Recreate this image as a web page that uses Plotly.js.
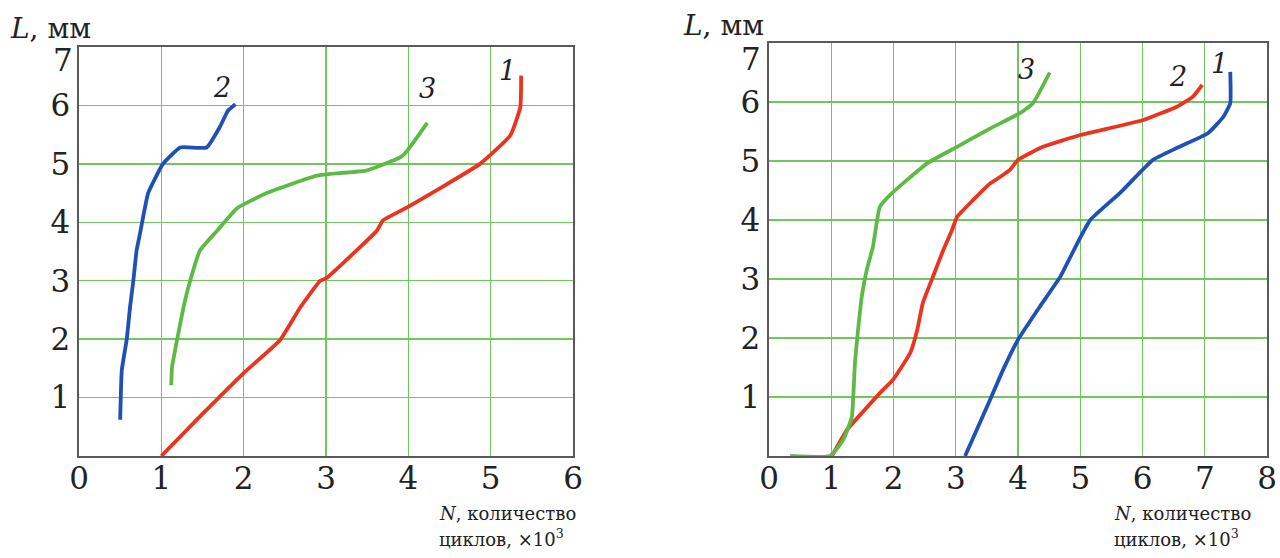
<!DOCTYPE html>
<html><head><meta charset="utf-8">
<script src="https://cdn.plot.ly/plotly-3.0.1.min.js"></script>
<style>body{margin:0;background:#fff}#c{width:1280px;height:558px}</style>
</head><body><div id="c"></div>
<script>
// Left chart
const L1x = [1.0, 1.5, 2.0, 2.44, 2.69, 2.93, 3.0, 3.41, 3.62, 3.69, 3.99, 4.87, 5.24, 5.36, 5.37];
const L1y = [0.0, 0.72, 1.42, 1.98, 2.55, 3.0, 3.04, 3.57, 3.86, 4.03, 4.26, 5.0, 5.49, 5.97, 6.51];
const L2x = [0.5, 0.52, 0.58, 0.62, 0.66, 0.70, 0.74, 0.84, 1.02, 1.23, 1.55, 1.71, 1.81, 1.90];
const L2y = [0.62, 1.47, 2.0, 2.55, 3.0, 3.52, 3.8, 4.5, 5.0, 5.28, 5.28, 5.63, 5.91, 6.02];
const L3x = [1.12, 1.13, 1.19, 1.27, 1.35, 1.47, 1.68, 1.92, 2.28, 2.89, 3.5, 3.9, 3.99, 4.23];
const L3y = [1.21, 1.52, 1.98, 2.55, 3.0, 3.52, 3.86, 4.24, 4.5, 4.8, 4.89, 5.11, 5.23, 5.7];
// Right chart
const R1x = [3.15, 3.55, 3.76, 4.0, 4.35, 4.68, 4.95, 5.16, 5.64, 6.17, 6.55, 7.05, 7.3, 7.41, 7.41];
const R1y = [0.0, 0.95, 1.46, 1.97, 2.53, 3.04, 3.6, 4.0, 4.46, 5.02, 5.22, 5.47, 5.75, 5.98, 6.51];
const R2x = [1.01, 1.25, 1.51, 1.83, 1.99, 2.27, 2.38, 2.47, 2.63, 2.8, 2.94, 3.02, 3.28, 3.55, 3.6, 3.87, 4.0, 4.4, 5.0, 6.0, 6.55, 6.81, 6.96];
const R2y = [0.0, 0.44, 0.75, 1.12, 1.29, 1.75, 2.13, 2.59, 3.03, 3.49, 3.83, 4.05, 4.34, 4.62, 4.65, 4.85, 5.02, 5.24, 5.44, 5.69, 5.92, 6.09, 6.29];
const R3x = [0.34, 0.98, 1.19, 1.33, 1.38, 1.43, 1.49, 1.57, 1.67, 1.78, 1.97, 2.54, 3.02, 3.55, 4.03, 4.24, 4.51];
const R3y = [0.0, 0.0, 0.27, 0.66, 1.57, 2.13, 2.7, 3.15, 3.55, 4.22, 4.45, 4.96, 5.24, 5.55, 5.81, 5.98, 6.5];

const xTicksL = [0,1,2,3,4,5,6];
const xTicksR = [0,1,2,3,4,5,6,7,8];
const yTicks = [1,2,3,4,5,6];   // "7" is drawn below as a label shifted under the axis title
const yTop = 7;

const BLUE = '#1f4fb8', GREEN = '#5cba45', RED = '#ea3420';
const GRID = '#72c661', FRAME = '#5a5a5a', INK = '#222';
const FONT = 'DejaVu Serif';

function tr(x, y, c, xa, ya) {
  return {x, y, type:'scatter', mode:'lines', xaxis:xa, yaxis:ya,
    line:{color:c, width:3.8, shape:'spline', smoothing:0.4}, hoverinfo:'skip'};
}
const data = [
  tr(L1x, L1y, RED, 'x', 'y'),
  tr(L2x, L2y, BLUE, 'x', 'y'),
  tr(L3x, L3y, GREEN, 'x', 'y'),
  tr(R1x, R1y, BLUE, 'x2', 'y2'),
  tr(R2x, R2y, RED, 'x2', 'y2'),
  tr(R3x, R3y, GREEN, 'x2', 'y2')
];

const H = 558, W = 1280;
function ax(domain, range, ticks, anchor, isY) {
  return {domain, range, anchor, tickvals:ticks, ticktext:ticks.map(String),
    showgrid:true, gridcolor:GRID, gridwidth:1.3, zeroline:false,
    showline:true, linecolor:FRAME, linewidth:1.6, mirror:true,
    ticks:'', ticklabelstandoff: isY ? 1 : -6, fixedrange:true,
    tickfont:{family:FONT, size:31, color:INK}};
}
function lab(xr, yr, x, y, t, sz, extra) {
  return Object.assign({xref:xr, yref:yr, x, y, showarrow:false, text:t,
    font:{family:FONT, size:sz, color:INK}}, extra || {});
}
const layout = {
  width:W, height:H, margin:{l:0, r:0, t:0, b:0},
  font:{family:FONT, color:INK},
  paper_bgcolor:'#fff', plot_bgcolor:'#fff', showlegend:false,
  xaxis: ax([79/W, 573/W], [0,6], xTicksL, 'y', false),
  yaxis: ax([(H-456)/H, (H-47)/H], [0,7], yTicks, 'x', true),
  xaxis2: ax([769/W, 1267/W], [0,8], xTicksR, 'y2', false),
  yaxis2: ax([(H-456)/H, (H-43)/H], [0,7], yTicks, 'x2', true),
  annotations: [
    lab('paper','paper', 8/W, (H-28)/H, '<i>L</i>, мм', 28, {xanchor:'left', yanchor:'middle'}),
    lab('paper','paper', 681/W, (H-26)/H, '<i>L</i>, мм', 28, {xanchor:'left', yanchor:'middle'}),
    lab('x','y', 0, yTop, String(yTop), 31, {xanchor:'right', yanchor:'middle', xshift:-4, yshift:-13}),
    lab('x2','y2', 0, yTop, String(yTop), 31, {xanchor:'right', yanchor:'middle', xshift:-6, yshift:-16}),
    lab('paper','paper', 437/W, (H-513)/H, '<i>N</i>, количество', 18, {xanchor:'left', yanchor:'middle'}),
    lab('paper','paper', 437/W, (H-538)/H, 'циклов, ×10<sup>3</sup>', 18, {xanchor:'left', yanchor:'middle'}),
    lab('paper','paper', 1112/W, (H-513)/H, '<i>N</i>, количество', 18, {xanchor:'left', yanchor:'middle'}),
    lab('paper','paper', 1112/W, (H-538)/H, 'циклов, ×10<sup>3</sup>', 18, {xanchor:'left', yanchor:'middle'}),
    lab('x','y', 1.74, 6.3, '<i>2</i>', 27),
    lab('x','y', 4.23, 6.29, '<i>3</i>', 27),
    lab('x','y', 5.2, 6.6, '<i>1</i>', 27),
    lab('x2','y2', 4.14, 6.55, '<i>3</i>', 27),
    lab('x2','y2', 6.57, 6.43, '<i>2</i>', 27),
    lab('x2','y2', 7.24, 6.66, '<i>1</i>', 27)
  ]
};
Plotly.newPlot('c', data, layout, {displayModeBar:false, staticPlot:true});
</script></body></html>
